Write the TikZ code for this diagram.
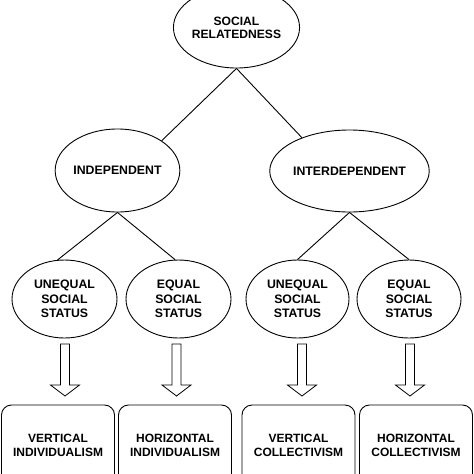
\documentclass[tikz,border=0pt]{standalone}
\usepackage{fontspec}
\setmainfont{Liberation Sans}
\usetikzlibrary{shapes.geometric}
\tikzset{
  oval/.style={draw, line width=0.9pt, ellipse, inner sep=0pt, align=center,
    font=\fontsize{12.3}{14.3}\selectfont\bfseries},
  outbox/.style={draw, line width=0.9pt, rounded corners=10pt, minimum width=113pt,
    minimum height=80pt, inner sep=0pt, align=center,
    font=\fontsize{12}{14}\selectfont\bfseries},
  link/.style={line width=0.9pt},
  hollowarrow/.pic={\draw[line width=0.8pt, line join=miter]
    (-4.5,0) -- (-4.5,41) -- (-14.5,41) -- (0,52) -- (14.5,41) -- (4.5,41) -- (4.5,0) -- cycle;}
}
\begin{document}
\begin{tikzpicture}[x=1pt,y=-1pt]
\useasboundingbox (0,0) rectangle (474,474);
\clip (0,0) rectangle (474,474);
\node[oval, minimum width=123pt, minimum height=81pt,
  font=\fontsize{12.1}{13.3}\selectfont\bfseries] (top) at (236.5,27.5) {SOCIAL\\RELATEDNESS};
\node[oval, minimum width=123pt, minimum height=83pt] (indep) at (117.5,170.5) {INDEPENDENT};
\node[oval, minimum width=123pt, minimum height=82pt] (inter) at (349.5,171) {INTERDEPENDENT};
\node[oval, minimum width=105pt, minimum height=78pt] (u1) at (64.5,299) {UNEQUAL\\SOCIAL\\STATUS};
\node[oval, minimum width=105pt, minimum height=78pt] (e1) at (178.5,299) {EQUAL\\SOCIAL\\STATUS};
\node[oval, minimum width=103pt, minimum height=78pt] (u2) at (297.5,299) {UNEQUAL\\SOCIAL\\STATUS};
\node[oval, minimum width=104pt, minimum height=78pt] (e2) at (409,299) {EQUAL\\SOCIAL\\STATUS};
\draw[link] (top.south) -- (indep.34);
\draw[link] (top.south) -- (inter.145);
\draw[link] (indep.south) -- (u1.100);
\draw[link] (indep.south) -- (e1.95);
\draw[link] (inter.south) -- (u2.north);
\draw[link] (inter.south) -- (e2.north);
\pic at (65,344) {hollowarrow};
\pic at (176.5,344) {hollowarrow};
\pic at (302,344) {hollowarrow};
\pic at (410,344) {hollowarrow};
\node[outbox] (vi) at (58,445) {VERTICAL\\INDIVIDUALISM};
\node[outbox] (hi) at (175,445) {HORIZONTAL\\INDIVIDUALISM};
\node[outbox] (vc) at (298.5,445) {VERTICAL\\COLLECTIVISM};
\node[outbox] (hc) at (416,445) {HORIZONTAL\\COLLECTIVISM};
\end{tikzpicture}
\end{document}
